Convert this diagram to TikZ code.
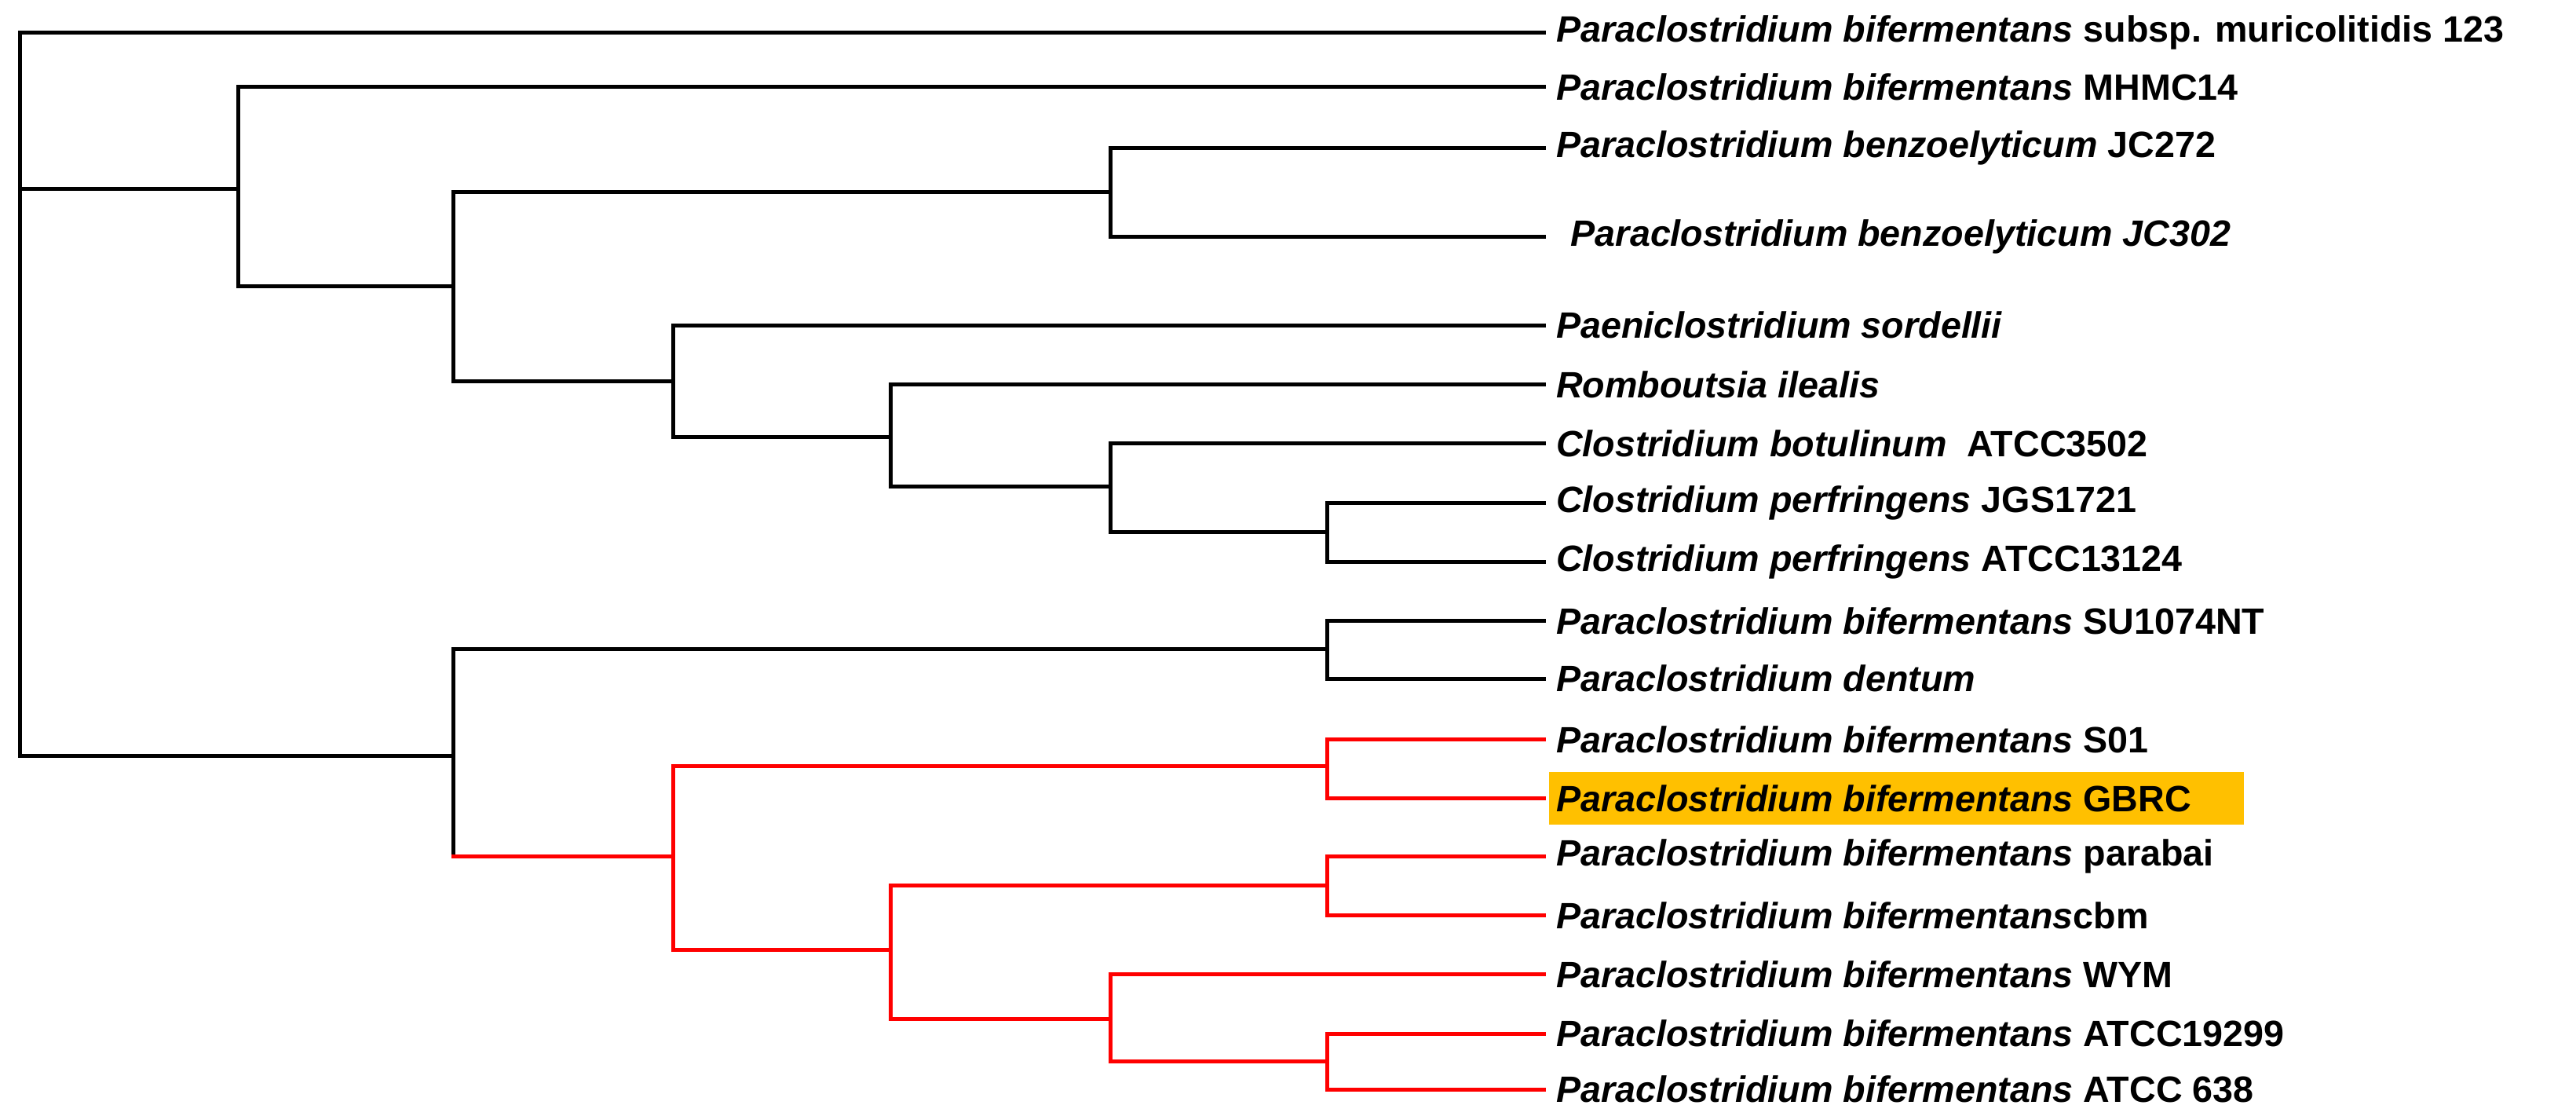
\documentclass[tikz,border=0pt]{standalone}
\usepackage{fontspec}
\setmainfont{Liberation Sans}
\begin{document}
\begin{tikzpicture}[x=1pt,y=-1pt,
  br/.style={line width=2.4pt,line cap=rect},
  blk/.style={br,black},
  rd/.style={br,red},
  lf/.style={anchor=west,inner sep=0pt,font=\fontsize{22.3}{24}\selectfont\bfseries}]
\useasboundingbox (0,0) rectangle (1568,679);
% leaves
\def\L#1#2#3{\coordinate (#1) at (940,#2); \node[lf] (t#1) at (947,#2) {#3};}
\L{l1}{20}{\textit{Paraclostridium bifermentans} subsp. muricolitidis 123}
\L{l2}{53}{\textit{Paraclostridium bifermentans} MHMC14}
\L{l3}{90}{\textit{Paraclostridium benzoelyticum} JC272}
\coordinate (l4) at (940,144); \node[lf] (tl4) at (956,144) {\textit{Paraclostridium benzoelyticum JC302}};
\L{l5}{198}{\textit{Paeniclostridium sordellii}}
\L{l6}{234}{\textit{Romboutsia ilealis}}
\L{l7}{270}{\textit{Clostridium botulinum}\ \ ATCC3502}
\L{l8}{306}{\textit{Clostridium perfringens} JGS1721}
\L{l9}{342}{\textit{Clostridium perfringens} ATCC13124}
\L{l10}{378}{\textit{Paraclostridium bifermentans} SU1074NT}
\L{l11}{413}{\textit{Paraclostridium dentum}}
\L{l12}{450}{\textit{Paraclostridium bifermentans} S01}
\fill[fill={rgb,255:red,255;green,192;blue,0}] (943,470) rectangle (1366,502);
\L{l13}{486}{\textit{Paraclostridium bifermentans} GBRC}
\L{l14}{521}{\textit{Paraclostridium bifermentans} parabai}
\L{l15}{557}{\textit{Paraclostridium bifermentans}cbm}
\L{l16}{593}{\textit{Paraclostridium bifermentans} WYM}
\L{l17}{629}{\textit{Paraclostridium bifermentans} ATCC19299}
\L{l18}{663}{\textit{Paraclostridium bifermentans} ATCC 638}
% internal nodes
\coordinate (R) at (12,115);
\coordinate (A) at (145,115);
\coordinate (C) at (276,174);
\coordinate (Bz) at (676,117);
\coordinate (D) at (410,232);
\coordinate (E) at (542,266);
\coordinate (F) at (676,296);
\coordinate (G) at (808,324);
\coordinate (B) at (276,460);
\coordinate (H) at (808,395);
\coordinate (I) at (410,521);
\coordinate (J) at (808,466);
\coordinate (K) at (542,578);
\coordinate (Lx) at (808,539);
\coordinate (M) at (676,620);
\coordinate (N) at (808,646);
% black
\draw[blk] (l1) -| (12,460) -- (B);
\draw[blk] (R) -- (A);
\draw[blk] (l2) -| (145,174) -- (C);
\draw[blk] (Bz) -| (C |- 0,232) -- (D);
\draw[blk] (l3) -| (Bz |- l4) -- (l4);
\draw[blk] (l5) -| (D |- 0,266) -- (E);
\draw[blk] (l6) -| (E |- 0,296) -- (F);
\draw[blk] (l7) -| (F |- 0,324) -- (G);
\draw[blk] (l8) -| (G |- l9) -- (l9);
\draw[blk] (H) -| (B |- 0,521);
\draw[blk] (l10) -| (H |- l11) -- (l11);
% red
\draw[rd] (B |- 0,521) -- (I);
\draw[rd] (J) -| (I |- 0,578) -- (K);
\draw[rd] (l12) -| (J |- l13) -- (l13);
\draw[rd] (Lx) -| (K |- 0,620) -- (M);
\draw[rd] (l14) -| (Lx |- l15) -- (l15);
\draw[rd] (l16) -| (M |- 0,646) -- (N);
\draw[rd] (l17) -| (N |- l18) -- (l18);
\end{tikzpicture}
\end{document}
